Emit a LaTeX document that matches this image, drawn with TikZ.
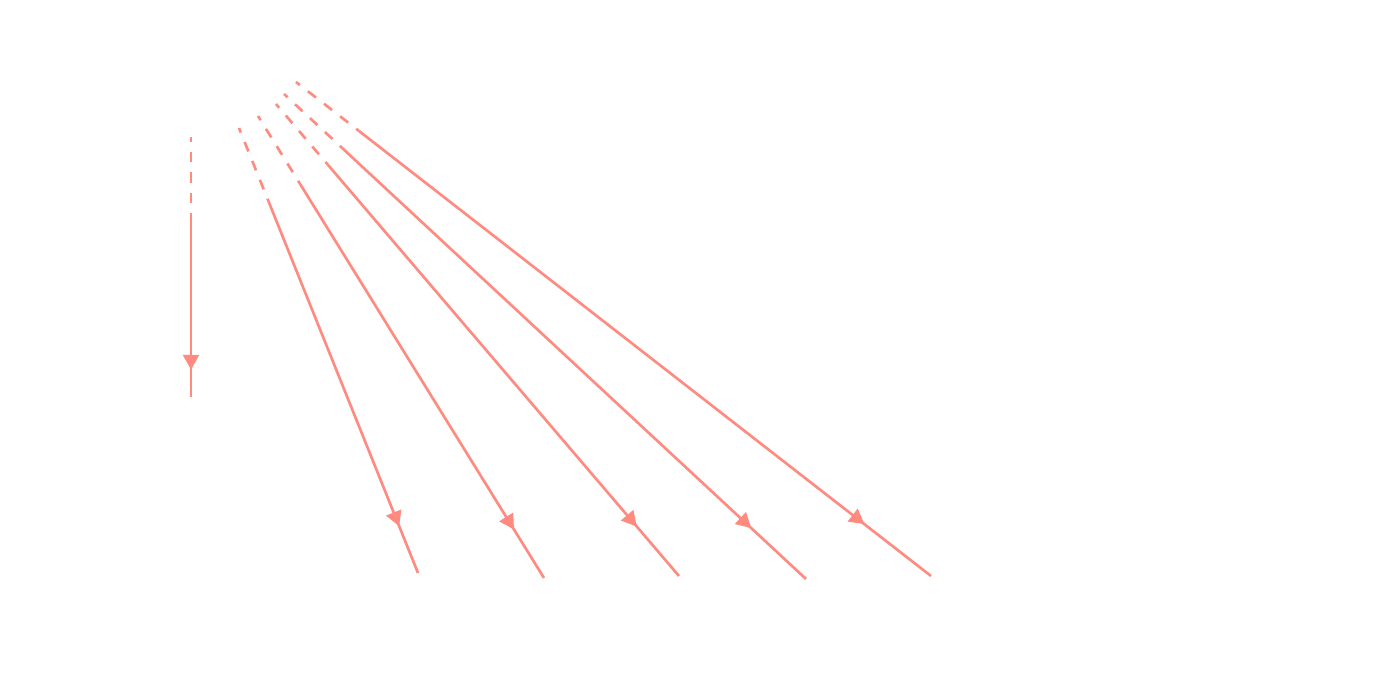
\documentclass[tikz,border=0pt]{standalone}
\usepackage{tikz}
\usetikzlibrary{arrows.meta,calc,decorations.markings}
\definecolor{rsalmon}{HTML}{FF8A80}

\begin{document}
\begin{tikzpicture}[
   ray/.style={draw=rsalmon, line width=0.75pt},
   pre/.style={ray, dash pattern=on 2.9pt off 2.9pt, dash phase=1.5pt},
   tip/.style={postaction={decorate}, decoration={markings,
      mark=at position 0.895 with {\arrow{Triangle[length=4.2pt,width=4.6pt]}}}, rsalmon}]
  \useasboundingbox (0,0) rectangle (13.8,6.82);
  % ray ends
  \coordinate (s1) at (1.91,5.45); \coordinate (e1) at (1.91,2.85);
  \coordinate (s2) at (2.39,5.54); \coordinate (e2) at (4.18,1.09);
  \coordinate (s3) at (2.58,5.66); \coordinate (e3) at (5.44,1.04);
  \coordinate (s4) at (2.76,5.78); \coordinate (e4) at (6.79,1.06);
  \coordinate (s5) at (2.84,5.88); \coordinate (e5) at (8.06,1.03);
  \coordinate (s6) at (2.96,6.00); \coordinate (e6) at (9.31,1.06);
  % where the dashes stop
  \coordinate (b1) at ($(s1)!0.8cm!(e1)$);
  \coordinate (b2) at ($(s2)!0.8cm!(e2)$);
  \coordinate (b3) at ($(s3)!0.8cm!(e3)$);
  \coordinate (b4) at ($(s4)!0.8cm!(e4)$);
  \coordinate (b5) at ($(s5)!0.8cm!(e5)$);
  \coordinate (b6) at ($(s6)!0.8cm!(e6)$);
  % rays
  \draw[pre] (s1) -- (b1); \draw[ray] (b1) -- (e1); \path[tip] (s1) -- (e1);
  \draw[pre] (s2) -- (b2); \draw[ray] (b2) -- (e2); \path[tip] (s2) -- (e2);
  \draw[pre] (s3) -- (b3); \draw[ray] (b3) -- (e3); \path[tip] (s3) -- (e3);
  \draw[pre] (s4) -- (b4); \draw[ray] (b4) -- (e4); \path[tip] (s4) -- (e4);
  \draw[pre] (s5) -- (b5); \draw[ray] (b5) -- (e5); \path[tip] (s5) -- (e5);
  \draw[pre] (s6) -- (b6); \draw[ray] (b6) -- (e6); \path[tip] (s6) -- (e6);
\end{tikzpicture}
\end{document}
